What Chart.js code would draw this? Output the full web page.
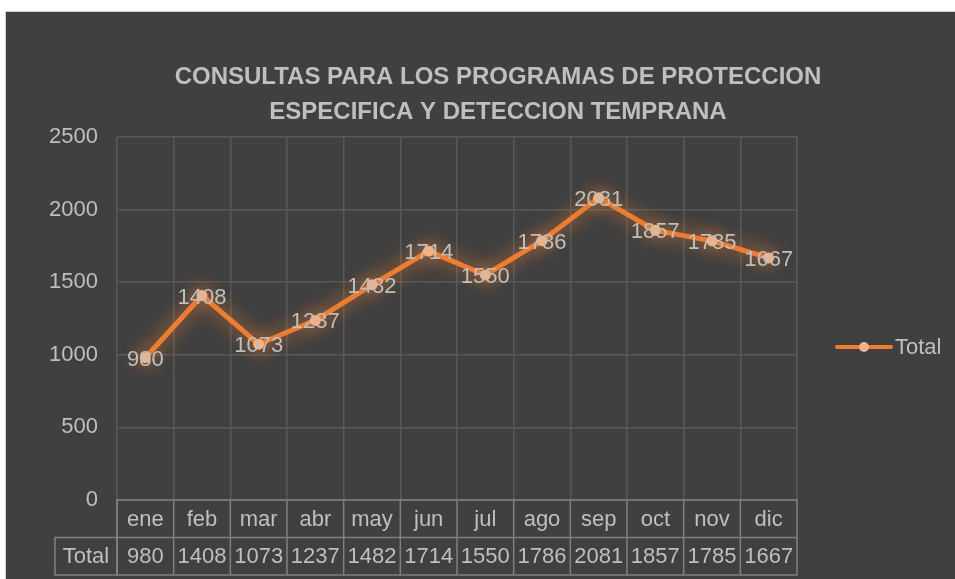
<!DOCTYPE html>
<html>
<head>
<meta charset="utf-8">
<script src="https://cdn.jsdelivr.net/npm/chart.js@4"></script>
<style>
  html, body { margin: 0; padding: 0; background: #ffffff; width: 955px; height: 579px; overflow: hidden; }
  #panel {
    position: absolute; left: 5px; top: 11px; width: 950px; height: 568px;
    background: #404040; border-top: 1px solid #d0d0d0; border-left: 1px solid #d0d0d0;
    box-sizing: border-box;
  }
  #grafico { display: block; }
</style>
</head>
<body>
<div id="panel"><canvas id="grafico" width="949" height="567"></canvas></div>
<script>
var meses = ["ene", "feb", "mar", "abr", "may", "jun", "jul", "ago", "sep", "oct", "nov", "dic"];
var totales = [980, 1408, 1073, 1237, 1482, 1714, 1550, 1786, 2081, 1857, 1785, 1667];
var serieNombre = "Total";
var tituloLineas = ["CONSULTAS PARA LOS PROGRAMAS DE PROTECCION", "ESPECIFICA Y DETECCION TEMPRANA"];

var fuente = "'Liberation Sans', Arial, sans-serif";
var gris = "#bfbfbf";
var naranja = "#ED7D31";
var durazno = "#F4B183";

// glow del trazo como en Excel
var brillo = {
  id: "brillo",
  beforeDatasetDraw(chart) {
    var ctx = chart.ctx;
    ctx.save();
    ctx.shadowColor = "rgba(240,130,50,0.95)";
    ctx.shadowBlur = 18;
  },
  afterDatasetDraw(chart) {
    chart.ctx.restore();
  }
};

var extras = {
  id: "extras",
  afterDraw(chart) {
    var ctx = chart.ctx;
    var x = chart.scales.x;
    var area = chart.chartArea;
    ctx.save();

    // titulo
    ctx.fillStyle = gris;
    ctx.font = "bold 24px " + fuente;
    ctx.textAlign = "center";
    ctx.textBaseline = "middle";
    ctx.fillText(tituloLineas[0], 492, 65);
    ctx.fillText(tituloLineas[1], 492, 100);

    // etiquetas de datos
    var meta = chart.getDatasetMeta(0);
    ctx.font = "22px " + fuente;
    meta.data.forEach((p, i) => {
      ctx.fillText(String(totales[i]), p.x, p.y + 2);
    });

    // tabla de datos
    var top = area.bottom;
    var fila = 37.5;
    var ancho = (area.right - area.left) / meses.length;
    ctx.strokeStyle = "#808080";
    ctx.lineWidth = 1.5;
    ctx.strokeRect(area.left, top, area.right - area.left, fila * 2);
    ctx.strokeRect(49, top + fila, area.left - 49, fila);
    ctx.beginPath();
    ctx.moveTo(area.left, top + fila);
    ctx.lineTo(area.right, top + fila);
    meses.forEach((m, i) => {
      var xi = x.getPixelForValue(i) - ancho / 2;
      ctx.moveTo(xi, top);
      ctx.lineTo(xi, top + fila * 2);
    });
    ctx.stroke();
    meses.forEach((m, i) => {
      var cx = x.getPixelForValue(i);
      ctx.fillText(m, cx, top + fila / 2 + 1);
      ctx.fillText(String(totales[i]), cx, top + fila * 1.5 + 1);
    });
    ctx.fillText(serieNombre, (49 + area.left) / 2, top + fila * 1.5 + 1);

    // leyenda
    ctx.strokeStyle = naranja;
    ctx.lineWidth = 4;
    ctx.lineCap = "round";
    ctx.beginPath();
    ctx.moveTo(831, 335);
    ctx.lineTo(885, 335);
    ctx.stroke();
    ctx.fillStyle = durazno;
    ctx.beginPath();
    ctx.arc(858, 335, 5, 0, Math.PI * 2);
    ctx.fill();
    ctx.fillStyle = gris;
    ctx.textAlign = "left";
    ctx.fillText(serieNombre, 889, 336);

    ctx.restore();
  }
};

new Chart(document.getElementById("grafico"), {
  type: "line",
  data: {
    labels: meses,
    datasets: [{
      label: serieNombre,
      data: totales,
      borderColor: naranja,
      borderWidth: 5,
      pointRadius: 5.5,
      pointBackgroundColor: durazno,
      pointBorderWidth: 0,
      tension: 0
    }]
  },
  options: {
    responsive: false,
    animation: false,
    events: [],
    layout: { padding: { top: 125, right: 158, bottom: 0, left: 0 } },
    plugins: {
      legend: { display: false },
      title: { display: false },
      tooltip: { enabled: false }
    },
    scales: {
      x: {
        offset: true,
        grid: { color: "#595959", lineWidth: 1.5, offset: true, drawTicks: false },
        border: { display: false },
        ticks: { display: false },
        afterFit(scale) { scale.height = 79; }
      },
      y: {
        min: 0,
        max: 2500,
        ticks: {
          stepSize: 500, color: gris, padding: 19, font: { family: fuente, size: 22 },
          callback: v => String(v)
        },
        grid: { color: "#595959", lineWidth: 1.5, drawTicks: false },
        border: { display: false },
        afterFit(scale) { scale.width = 111; }
      }
    }
  },
  plugins: [brillo, extras]
});
</script>
</body>
</html>
